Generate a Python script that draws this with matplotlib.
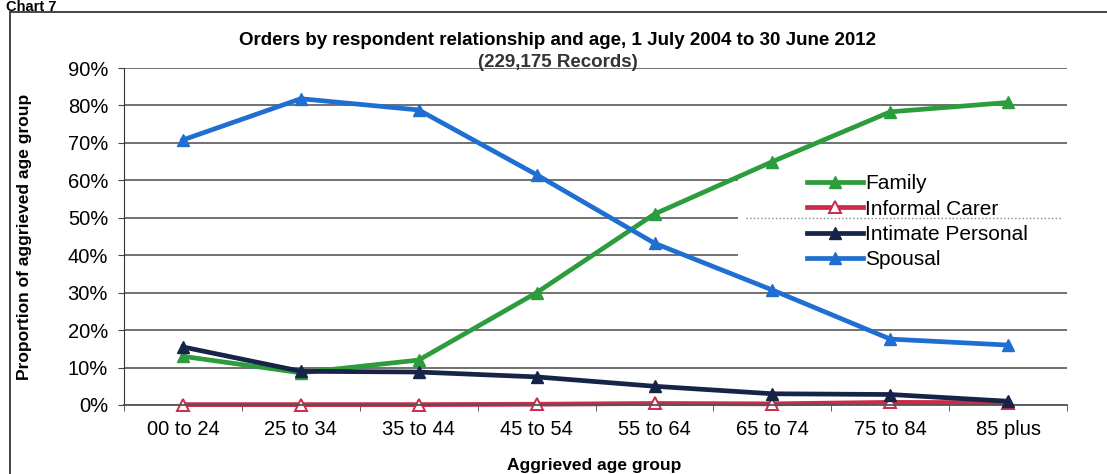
import numpy as np
import matplotlib
matplotlib.use("Agg")
import matplotlib.pyplot as plt
from matplotlib.patches import Rectangle

plt.rcParams['font.family'] = ['Liberation Sans', 'DejaVu Sans']

# data (percent of aggrieved age group)
age_groups = ["00 to 24", "25 to 34", "35 to 44", "45 to 54",
              "55 to 64", "65 to 74", "75 to 84", "85 plus"]
family = [13.0, 8.6, 12.0, 30.0, 51.0, 65.0, 78.3, 80.8]
informal_carer = [0.1, 0.1, 0.1, 0.2, 0.4, 0.3, 0.7, 0.6]
intimate_personal = [15.5, 9.0, 8.8, 7.5, 5.0, 3.0, 2.8, 1.0]
spousal = [70.8, 81.8, 78.8, 61.5, 43.2, 30.7, 17.6, 16.0]
y_ticks = [0, 10, 20, 30, 40, 50, 60, 70, 80, 90]

fig = plt.figure(figsize=(11.07, 4.74), dpi=100)
ax = fig.add_axes([0.112, 0.1456, 0.852, 0.7109])

x = np.arange(len(age_groups))
lw = 3.4
ms = 9
ax.plot(x, family, color='#2c9c3c', lw=lw, marker='^', ms=ms, label='Family', zorder=3)
ax.plot(x, informal_carer, color='#d02848', lw=lw, marker='^', ms=ms,
        markerfacecolor='white', markeredgecolor='#d02848', markeredgewidth=1.4,
        label='Informal Carer', zorder=2.5, clip_on=False)
ax.plot(x, intimate_personal, color='#152447', lw=lw, marker='^', ms=ms,
        label='Intimate Personal', zorder=3.2, clip_on=False)
ax.plot(x, spousal, color='#1f6fd2', lw=lw, marker='^', ms=ms, label='Spousal', zorder=3)

ax.set_xlim(-0.5, len(age_groups) - 0.5)
ax.set_ylim(0, 90)
ax.set_yticks(y_ticks)
ax.set_yticklabels([f"{v}%" for v in y_ticks], fontsize=14.5)
ax.set_xticks(x)
ax.set_xticklabels(age_groups, fontsize=14.5)
ax.set_xticks(np.arange(len(age_groups) + 1) - 0.5, minor=True)
ax.tick_params(axis='x', which='major', length=0, pad=11)
ax.tick_params(axis='x', which='minor', length=4, direction='out', color='#444444')
ax.tick_params(axis='y', length=4.5, pad=7, color='#444444')

ax.set_axisbelow(True)
ax.yaxis.grid(True, color='#4a4a4a', lw=1.1)
for s in ['top', 'right']:
    ax.spines[s].set_visible(False)
ax.spines['left'].set_color('#333333')
ax.spines['bottom'].set_color('#555555')
ax.spines['bottom'].set_linewidth(1.3)

# white legend panel over the gridlines
ax.add_patch(Rectangle((0.651, 0.39), 0.349, 0.30, transform=ax.transAxes,
                       facecolor='white', edgecolor='none', zorder=1.5))
ax.axhline(50, xmin=0.66, xmax=0.995, color='#888888', lw=1.0, ls=':', zorder=1.6)

leg = fig.legend(loc='upper left', bbox_to_anchor=(0.729, 0.632), frameon=False,
                 fontsize=15, handlelength=2.7, handletextpad=0.1,
                 labelspacing=0.3, borderpad=0, borderaxespad=0)

fig.text(0.504, 0.915, "Orders by respondent relationship and age, 1 July 2004 to 30 June 2012",
         ha='center', va='center', fontsize=13.5, fontweight='bold')
fig.text(0.504, 0.868, "(229,175 Records)", ha='center', va='center',
         fontsize=13.5, fontweight='bold', color='#333333')
fig.text(0.537, 0.018, "Aggrieved age group", ha='center', va='center',
         fontsize=12.5, fontweight='bold')
fig.text(0.022, 0.50, "Proportion of aggrieved age group", ha='center', va='center',
         rotation=90, fontsize=12.5, fontweight='bold')
fig.text(0.005, 0.999, "Chart 7", ha='left', va='top', fontsize=10.5, fontweight='bold')

# outer frame of the scanned chart
fig.add_artist(Rectangle((0.009, -0.05), 1.2, 1.024, transform=fig.transFigure,
                         facecolor='none', edgecolor='#444444', lw=1.4))

fig.savefig("out.png", dpi=100)
